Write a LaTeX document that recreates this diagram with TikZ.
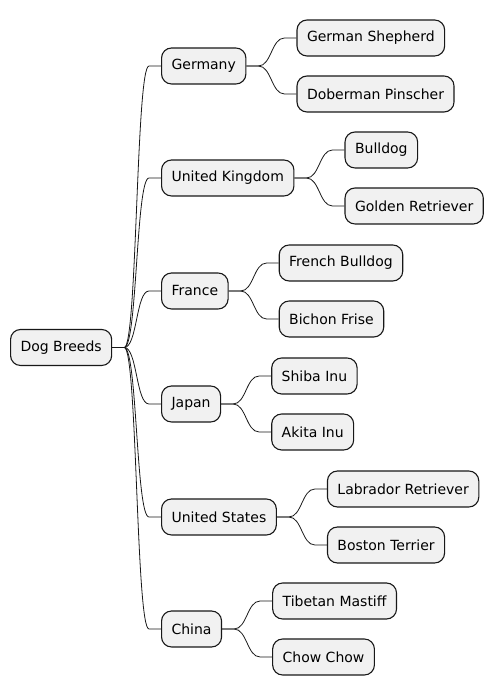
\documentclass[tikz,border=0pt]{standalone}
\usepackage{fontspec}
\setmainfont{DejaVu Sans}
\usetikzlibrary{positioning,calc}
\definecolor{boxfill}{HTML}{F1F1F1}
\definecolor{boxline}{HTML}{181818}

\tikzset{
  breed/.style={draw=boxline, line width=1.1pt, fill=boxfill, rounded corners=10pt,
    minimum height=36pt, inner xsep=10pt, inner ysep=0pt, anchor=west,
    font=\fontsize{14}{17}\selectfont},
  branch/.style={draw=boxline, line width=0.8pt,
    to path={-- ++(12pt,0) .. controls +(13pt,0) and +(-13pt,0) .. ($(\tikztotarget)+(-12pt,0)$) -- (\tikztotarget)}}
}

\begin{document}
\begin{tikzpicture}[x=1pt, y=1pt]
    \useasboundingbox (0,0) rectangle (493,696);
    % root
    \node[breed] (root) at (10,348.5) {Dog Breeds};
    % countries
    \node[breed] (germany) at (161,630) {Germany};
    \node[breed] (uk) at (161,518) {United Kingdom};
    \node[breed] (france) at (161,405) {France};
    \node[breed] (japan) at (161,292) {Japan};
    \node[breed] (us) at (161,179) {United States};
    \node[breed] (china) at (161,67) {China};
    % breeds
    \node[breed, right=50pt of germany, yshift=28pt] (shepherd) {German Shepherd};
    \node[breed, right=50pt of germany, yshift=-28pt] (doberman) {Doberman Pinscher};
    \node[breed, right=50pt of uk, yshift=28pt] (bulldog) {Bulldog};
    \node[breed, right=50pt of uk, yshift=-28pt] (golden) {Golden Retriever};
    \node[breed, right=50pt of france, yshift=28pt] (frenchbull) {French Bulldog};
    \node[breed, right=50pt of france, yshift=-28pt] (bichon) {Bichon Frise};
    \node[breed, right=50pt of japan, yshift=28pt] (shiba) {Shiba Inu};
    \node[breed, right=50pt of japan, yshift=-28pt] (akita) {Akita Inu};
    \node[breed, right=50pt of us, yshift=28pt] (labrador) {Labrador Retriever};
    \node[breed, right=50pt of us, yshift=-28pt] (boston) {Boston Terrier};
    \node[breed, right=50pt of china, yshift=28pt] (mastiff) {Tibetan Mastiff};
    \node[breed, right=50pt of china, yshift=-28pt] (chowchow) {Chow Chow};
    % branches
    \draw[branch] (root.east) to (germany.west);
    \draw[branch] (root.east) to (uk.west);
    \draw[branch] (root.east) to (france.west);
    \draw[branch] (root.east) to (japan.west);
    \draw[branch] (root.east) to (us.west);
    \draw[branch] (root.east) to (china.west);
    \draw[branch] (germany.east) to (shepherd.west);
    \draw[branch] (germany.east) to (doberman.west);
    \draw[branch] (uk.east) to (bulldog.west);
    \draw[branch] (uk.east) to (golden.west);
    \draw[branch] (france.east) to (frenchbull.west);
    \draw[branch] (france.east) to (bichon.west);
    \draw[branch] (japan.east) to (shiba.west);
    \draw[branch] (japan.east) to (akita.west);
    \draw[branch] (us.east) to (labrador.west);
    \draw[branch] (us.east) to (boston.west);
    \draw[branch] (china.east) to (mastiff.west);
    \draw[branch] (china.east) to (chowchow.west);
\end{tikzpicture}
\end{document}
